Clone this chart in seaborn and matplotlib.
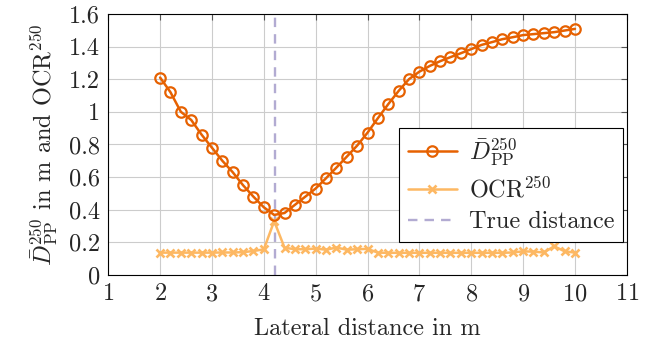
import numpy as np
import pandas as pd
import matplotlib
matplotlib.use("Agg")
import matplotlib.pyplot as plt
from matplotlib.ticker import FuncFormatter
import seaborn as sns

# ----------------------------------
# Data
# ----------------------------------
lateral = np.round(np.arange(2.0, 10.01, 0.2), 1)

d_pp = [1.21, 1.12, 1.00, 0.95, 0.86, 0.78, 0.70, 0.63, 0.55, 0.48,
        0.415, 0.368, 0.38, 0.43, 0.48, 0.53, 0.593, 0.658, 0.725, 0.793,
        0.872, 0.961, 1.047, 1.128, 1.20, 1.246, 1.281, 1.31, 1.335, 1.359,
        1.384, 1.41, 1.427, 1.445, 1.457, 1.47, 1.476, 1.482, 1.488, 1.498,
        1.508]

ocr = [0.137, 0.137, 0.137, 0.137, 0.137, 0.137, 0.138, 0.138, 0.140, 0.147,
       0.157, 0.33, 0.167, 0.158, 0.158, 0.162, 0.155, 0.168, 0.155, 0.158,
       0.160, 0.137, 0.136, 0.136, 0.136, 0.136, 0.136, 0.136, 0.136, 0.136,
       0.136, 0.136, 0.136, 0.136, 0.138, 0.145, 0.143, 0.138, 0.176, 0.145,
       0.137]

true_distance = 4.22

df = pd.DataFrame({"lateral": lateral, "d_pp": d_pp, "ocr": ocr})

# ----------------------------------
# Style
# ----------------------------------
sns.set_style("white")
plt.rcParams["font.family"] = ["serif"]
plt.rcParams["font.serif"] = ["cmr10", "DejaVu Serif"]
plt.rcParams["mathtext.fontset"] = "cm"
plt.rcParams["axes.unicode_minus"] = False
plt.rcParams["axes.formatter.use_mathtext"] = True

c_dpp = "#e66101"
c_ocr = "#fdb863"
c_true = "#b2abd2"
fs = 17.5

fig = plt.figure(figsize=(6.64, 3.47), dpi=100)
ax = fig.add_axes([0.163, 0.2075, 0.781, 0.7525])

sns.lineplot(data=df, x="lateral", y="d_pp", ax=ax, color=c_dpp,
             linewidth=1.8, marker="o", markersize=7.5,
             markerfacecolor="none", markeredgecolor=c_dpp,
             markeredgewidth=1.6, label=r"$\bar{D}^{250}_{\mathrm{PP}}$",
             zorder=3)
sns.lineplot(data=df, x="lateral", y="ocr", ax=ax, color=c_ocr,
             linewidth=1.8, marker="x", markersize=5.5,
             markeredgecolor=c_ocr, markeredgewidth=1.9,
             label=r"OCR$^{250}$", zorder=2)
ax.axvline(true_distance, color=c_true, linestyle=(0, (4, 3)),
           linewidth=1.7, label="True distance", zorder=1)

ax.set_xlim(1, 11)
ax.set_ylim(0, 1.6)
ax.set_xticks(range(1, 12))
ax.set_yticks(np.arange(0, 1.61, 0.2))
ax.yaxis.set_major_formatter(FuncFormatter(lambda v, p: f"{v:g}"))
ax.grid(True, color="#cccccc", linewidth=0.8)
ax.tick_params(direction="in", length=4, width=0.8, color="#555555",
               top=True, right=True, labelsize=fs, pad=6)
for s in ax.spines.values():
    s.set_color("black")
    s.set_linewidth(0.8)

ax.set_xlabel("Lateral distance in m", fontsize=fs, labelpad=9)
ax.set_ylabel(r"$\bar{D}^{250}_{\mathrm{PP}}$ in m and OCR$^{250}$",
              fontsize=fs, labelpad=6)

leg = ax.legend(loc="lower right", bbox_to_anchor=(0.992, 0.128),
                borderaxespad=0, fontsize=fs, frameon=True, fancybox=False,
                framealpha=1, edgecolor="black", handlelength=2.0,
                borderpad=0.35, labelspacing=0.35, handletextpad=0.5)
leg.get_frame().set_linewidth(0.8)

fig.savefig("out.png", dpi=100)
